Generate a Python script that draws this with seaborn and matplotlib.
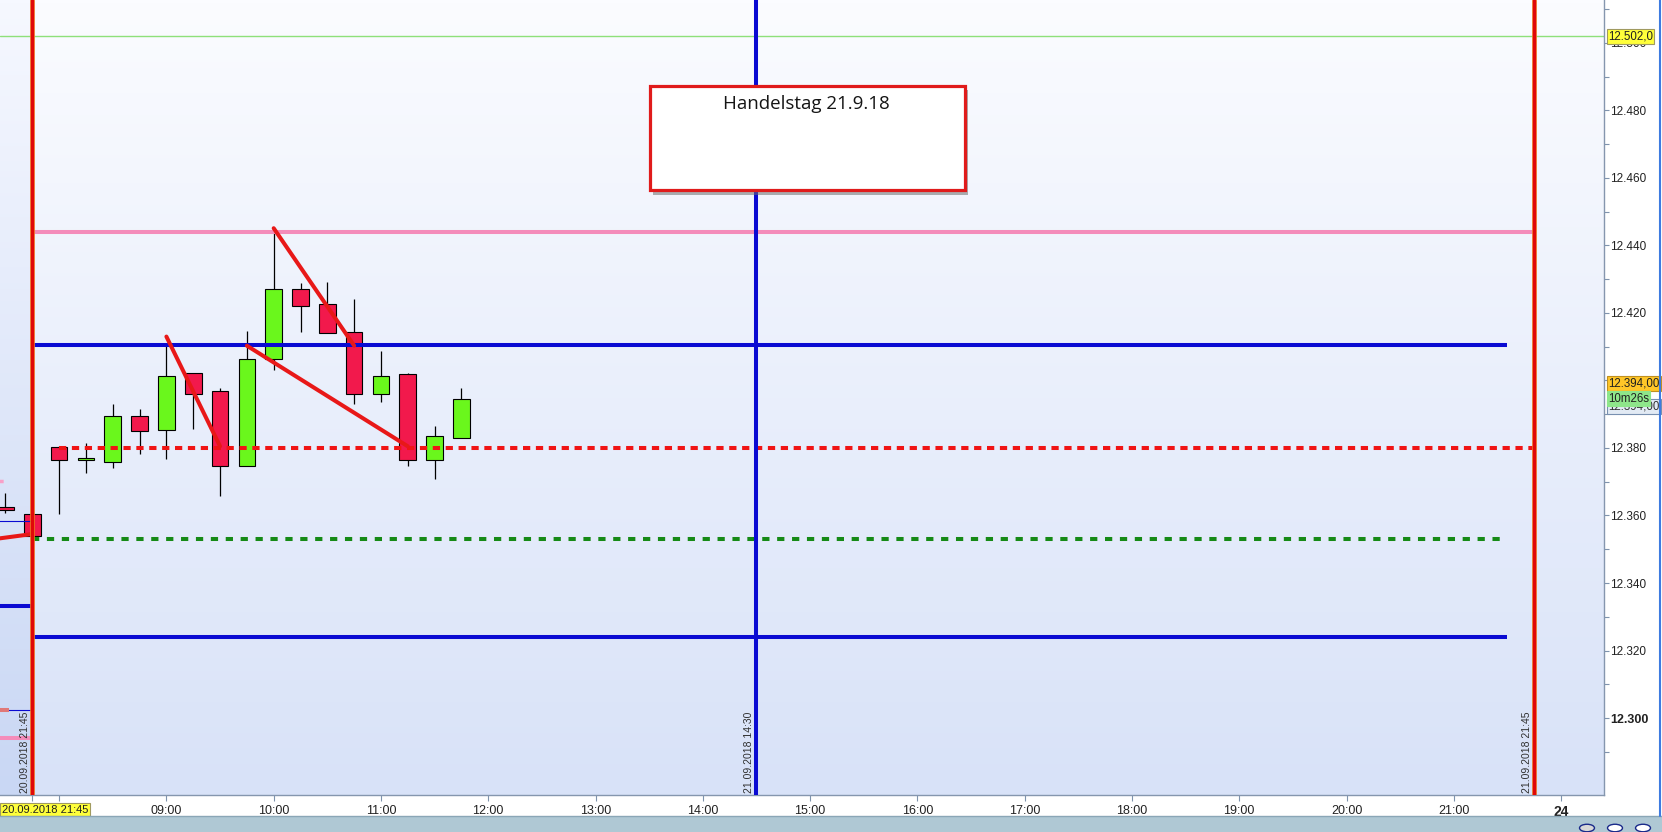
import numpy as np
import pandas as pd
import matplotlib.pyplot as plt
import seaborn as sns
from matplotlib.patches import Rectangle, Circle
from matplotlib.colors import LinearSegmentedColormap

# 15-min candles, Handelstag 21.09.2018 (index points)
times = ["08:00", "08:15", "08:30", "08:45", "09:00", "09:15", "09:30", "09:45",
         "10:00", "10:15", "10:30", "10:45", "11:00", "11:15", "11:30", "11:45"]
opens = [12380.4, 12376.3, 12375.8, 12389.4, 12385.2, 12402.1, 12396.8, 12374.8,
         12406.3, 12427.0, 12422.6, 12414.5, 12395.9, 12401.8, 12376.3, 12382.9]
highs = [12380.5, 12381.4, 12393.0, 12391.5, 12411.0, 12402.1, 12397.7, 12414.7,
         12445.1, 12429.0, 12429.3, 12424.1, 12408.7, 12402.2, 12386.5, 12397.8]
lows = [12360.3, 12372.7, 12374.2, 12378.2, 12376.8, 12385.6, 12365.9, 12374.8,
        12403.1, 12414.5, 12414.2, 12393.0, 12393.7, 12374.8, 12370.9, 12382.9]
closes = [12376.3, 12376.9, 12389.6, 12384.9, 12401.2, 12395.9, 12374.8, 12406.3,
          12427.0, 12422.2, 12414.2, 12395.9, 12401.2, 12376.3, 12383.4, 12394.4]

# last candles of the previous session (20.09.2018)
prev_times = ["20.09. 21:30", "20.09. 21:45"]
prev_opens = [12362.4, 12360.4]
prev_highs = [12366.8, 12360.4]
prev_lows = [12360.8, 12354.0]
prev_closes = [12361.5, 12354.0]

# horizontal levels for the day
level_values = [12444.0, 12410.5, 12380.0, 12353.0, 12324.0]
level_from = ["20.09. 21:45", "20.09. 21:45", "08:00", "20.09. 21:45", "20.09. 21:45"]
level_to = ["21:45", "21:30", "21:45", "21:30", "21:30"]

# leftovers of the previous day's drawings
old_values = [12370.2, 12358.4, 12333.3, 12302.4, 12302.4, 12294.2]
old_from = ["20.09. 21:00", "20.09. 21:00", "20.09. 21:00", "20.09. 21:00", "20.09. 21:00", "20.09. 21:00"]
old_to = ["20.09. 21:30", "20.09. 21:45", "20.09. 21:45", "20.09. 21:45", "20.09. 21:32", "20.09. 21:45"]

# trend lines
trend_from = ["20.09. 21:25", "09:00", "09:45", "10:00"]
trend_from_val = [12353.1, 12413.0, 12410.3, 12445.1]
trend_to = ["20.09. 21:45", "09:30", "11:15", "10:45"]
trend_to_val = [12354.5, 12380.5, 12380.5, 12410.3]

# vertical time markers
vline_times = ["20.09. 21:45", "14:30", "21:45"]
vline_labels = ["20.09.2018 21:45", "21.09.2018 14:30", "21.09.2018 21:45"]

ref_line = 12502.0
last_price = 12394.0

y_ticks = [12300, 12320, 12340, 12360, 12380, 12400, 12420, 12440, 12460, 12480, 12500]
y_tick_labels = ["12.300", "12.320", "12.340", "12.360", "12.380", "12.400",
                 "12.420", "12.440", "12.460", "12.480", "12.500"]
x_tick_times = ["20.09. 21:45", "08:00", "09:00", "10:00", "11:00", "12:00", "13:00", "14:00",
                "15:00", "16:00", "17:00", "18:00", "19:00", "20:00", "21:00", "22:00"]
x_tick_labels = ["", "", "09:00", "10:00", "11:00", "12:00", "13:00", "14:00",
                 "15:00", "16:00", "17:00", "18:00", "19:00", "20:00", "21:00", "24"]


def slot(t):
    # session axis: the previous evening sits right in front of 08:00
    if t.startswith("20.09. "):
        hh, mm = t[7:].split(":")
        return int(hh) + int(mm) / 60 - 14
    hh, mm = t.split(":")
    return int(hh) + int(mm) / 60


RED = "#F2194C"
GREEN = "#6AF71C"
BLUE = "#0A0AD2"
PINK = "#F48CBA"

sns.set_style("white")
plt.rcParams['font.family'] = ['Liberation Sans', 'DejaVu Sans']

fig = plt.figure(figsize=(16.62, 8.32), dpi=100)
ax = fig.add_axes([0, 37 / 832, 1604 / 1662, 795 / 832])
x_left, x_right = 7.449, 22.40
y_low, y_high = 12277.2, 12512.7

# background gradient, previous session a bit bluer
grad = np.linspace(0, 1, 256).reshape(-1, 1)
ax.imshow(grad, extent=[x_left, x_right, y_low, y_high], origin='lower', aspect='auto',
          cmap=LinearSegmentedColormap.from_list('bg', ['#D8E2F8', '#FBFCFF']), zorder=0)
ax.imshow(grad, extent=[x_left, slot("20.09. 21:45"), y_low, y_high], origin='lower', aspect='auto',
          cmap=LinearSegmentedColormap.from_list('bg2', ['#C9D7F4', '#F6F8FF']), zorder=0.1)

# candles
candles = pd.DataFrame({
    'x': [slot(t) for t in prev_times + times],
    'open': prev_opens + opens,
    'high': prev_highs + highs,
    'low': prev_lows + lows,
    'close': prev_closes + closes,
})
up = candles['close'] > candles['open']
ax.vlines(candles['x'], candles['low'], candles['high'], color='black', lw=0.9, zorder=2)
ax.bar(candles['x'], (candles['close'] - candles['open']).abs().clip(lower=0.5),
       bottom=candles[['open', 'close']].min(axis=1), width=0.155,
       color=np.where(up, GREEN, RED), edgecolor='black', linewidth=0.8, zorder=2.1)

# reference line
ax.axhline(ref_line, color='#8EE07A', lw=1.0, zorder=1)

# previous day stubs
old_styles = [dict(color='#F8A0C8', lw=2.5, ls=(0, (1.2, 1.2))),
              dict(color=BLUE, lw=0.8),
              dict(color=BLUE, lw=2.9),
              dict(color=BLUE, lw=0.8),
              dict(color='#E07878', lw=2.9),
              dict(color=PINK, lw=2.9)]
for v, a, b, st in zip(old_values, old_from, old_to, old_styles):
    ax.hlines(v, slot(a), slot(b), zorder=3, **st)

# levels of the day
level_styles = [dict(color=PINK, lw=2.9),
                dict(color=BLUE, lw=2.9),
                dict(color='#F01414', lw=2.9, ls=(0, (1.8, 1.4))),
                dict(color='#168A16', lw=2.9, ls=(0, (1.8, 1.9))),
                dict(color=BLUE, lw=2.9)]
for v, a, b, st in zip(level_values, level_from, level_to, level_styles):
    ax.hlines(v, slot(a), slot(b), zorder=3, **st)

# trend lines
trend_df = pd.DataFrame({
    'seg': list(range(len(trend_from))) * 2,
    'x': [slot(t) for t in trend_from] + [slot(t) for t in trend_to],
    'price': trend_from_val + trend_to_val,
})
sns.lineplot(data=trend_df, x='x', y='price', units='seg', estimator=None, sort=False,
             color='#E81818', lw=2.9, ax=ax, legend=False, zorder=4)

# vertical markers
for t, lab in zip(vline_times, vline_labels):
    xv = slot(t)
    if t == "14:30":
        ax.axvline(xv, color=BLUE, lw=2.9, zorder=4)
    else:
        ax.axvline(xv, color='#EE7020', lw=3.4, zorder=4)
        ax.axvline(xv, color='#E00808', lw=2.2, zorder=4.1)
    ax.annotate(lab, xy=(xv, 0), xycoords=('data', 'axes fraction'), xytext=(-1.8, 1.5),
                textcoords='offset points', rotation=90, ha='right', va='bottom',
                fontsize=7.5, color='#303030', zorder=5)

ax.set_xlim(x_left, x_right)
ax.set_ylim(y_low, y_high)
ax.set_xlabel('')
ax.set_ylabel('')

# axes / ticks
for s in ['top', 'left']:
    ax.spines[s].set_visible(False)
for s in ['right', 'bottom']:
    ax.spines[s].set_color('#8596AE')
    ax.spines[s].set_linewidth(1.0)

ax.yaxis.tick_right()
ax.set_yticks(y_ticks, labels=y_tick_labels)
ax.set_yticks([v + 10 for v in y_ticks] + [y_ticks[0] - 10], minor=True)
ax.tick_params(axis='y', which='both', direction='out', length=3.5, width=0.8, color='#7F93AD',
               pad=0.8, labelsize=8.5, labelcolor='#222222', right=True, left=False)
for lbl in ax.get_yticklabels():
    if lbl.get_text() == "12.300":
        lbl.set_fontweight('bold')
        lbl.set_fontsize(9)

ax.set_xticks([slot(t) for t in x_tick_times], labels=x_tick_labels)
ax.tick_params(axis='x', which='both', direction='out', length=4, width=0.8, color='#7F93AD',
               pad=3, labelsize=9, labelcolor='#222222', bottom=True)
for lbl in ax.get_xticklabels():
    if lbl.get_text() == "24":
        lbl.set_fontweight('bold')
        lbl.set_fontsize(10)

# price tags on the right scale
tag_tf = ax.get_yaxis_transform()
ax.text(1.0025, ref_line, "12.502,0", transform=tag_tf, va='center', ha='left', fontsize=8.3,
        color='#202020', zorder=6, clip_on=False,
        bbox=dict(boxstyle='square,pad=0.12', fc='#FFFF3A', ec='#A09A60', lw=0.8))
ax.text(1.0025, last_price - 1.8, "12.394,00", transform=tag_tf, va='center', ha='left', fontsize=8.3,
        color='#303030', zorder=6, clip_on=False,
        bbox=dict(boxstyle='square,pad=0.12', fc='#E2EAF4', ec='#7890B0', lw=0.8))
ax.text(1.0025, last_price + 5.2, "12.394,00", transform=tag_tf, va='center', ha='left', fontsize=8.3,
        color='#202020', zorder=6.2, clip_on=False,
        bbox=dict(boxstyle='square,pad=0.12', fc='#FFC628', ec='#C09020', lw=0.8))
ax.text(1.0025, last_price + 0.6, "10m26s", transform=tag_tf, va='center', ha='left', fontsize=8.3,
        color='#202020', zorder=6.4, clip_on=False,
        bbox=dict(boxstyle='square,pad=0.12', fc='#8EE68A', ec='#8EE68A', lw=0.8))

# date tag on the time scale
ax.text(0.0012, -0.0185, "20.09.2018 21:45", transform=ax.transAxes, va='center', ha='left',
        fontsize=8, color='#202020', zorder=6, clip_on=False,
        bbox=dict(boxstyle='square,pad=0.15', fc='#FFFF3A', ec='#A09A60', lw=0.8))

# text box with shadow
ax.add_patch(Rectangle((0.4074, 0.755), 0.1963, 0.1313, transform=ax.transAxes,
                       fc='#6E6E6E', ec='none', alpha=0.55, zorder=6))
ax.add_patch(Rectangle((0.4052, 0.761), 0.1963, 0.1313, transform=ax.transAxes,
                       fc='white', ec='#E01B1B', lw=2.3, zorder=6.1))
ax.text(0.5029, 0.869, "Handelstag 21.9.18", transform=ax.transAxes, ha='center', va='center',
        fontsize=13.5, family=['Open Sans', 'DejaVu Sans'], color='#151515', zorder=6.2)

# bottom scroll bar and window border
fig.add_artist(Rectangle((0, 0), 1, 16 / 832, transform=fig.transFigure, fc='#AFC8D4', ec='none'))
fig.add_artist(plt.Line2D([0, 1], [16 / 832, 16 / 832], transform=fig.transFigure, color='#8AA6B6', lw=1))
for cx, fc in zip([1587, 1615, 1643], ['#D8D8D8', '#FFFFFF', '#FFFFFF']):
    fig.add_artist(Circle((cx / 1662, 4 / 832), 0.0045, transform=fig.transFigure,
                          fc=fc, ec='#1A2A8A', lw=1.0))
fig.add_artist(plt.Line2D([1660 / 1662, 1660 / 1662], [16 / 832, 1], transform=fig.transFigure,
                          color='#3E7BE0', lw=1.5))

plt.savefig('out.png', dpi=100)
